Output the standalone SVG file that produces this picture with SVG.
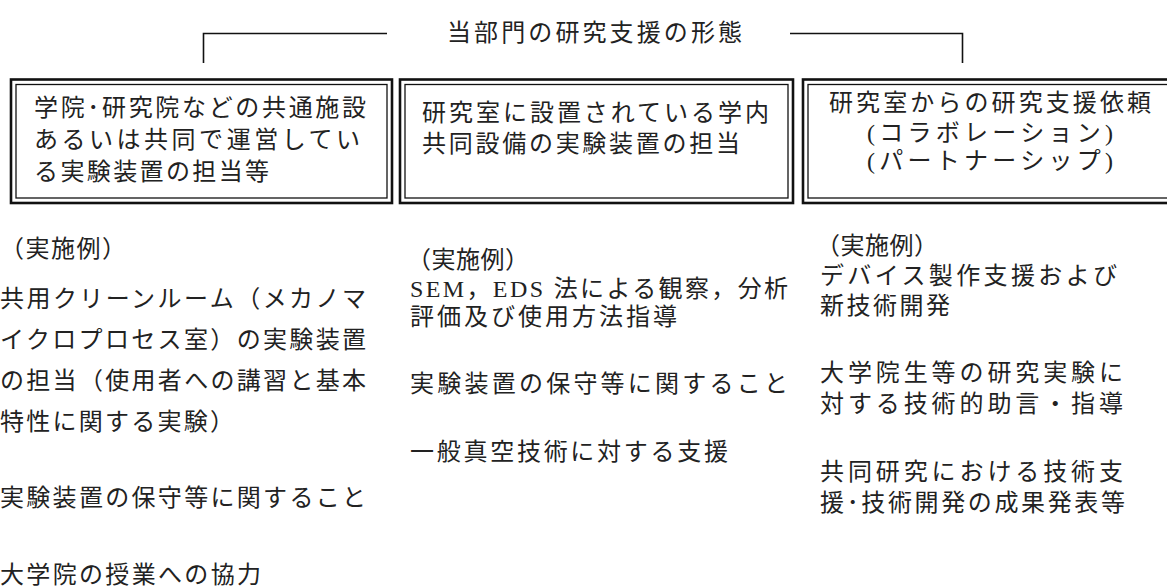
<svg xmlns="http://www.w3.org/2000/svg" width="1167" height="588" viewBox="0 0 1167 588">
<style>
text{font-family:"Liberation Serif","Noto Sans CJK JP",serif;font-size:24px;fill:#222}
.outer{fill:none;stroke:#111;stroke-width:2.6}
.inner{fill:none;stroke:#111;stroke-width:1.3}
.line{fill:none;stroke:#111;stroke-width:1.6}
.mid{text-anchor:middle}
</style>
<rect width="1167" height="588" fill="#fff"/>
<g id="connectors">
<path class="line" d="M203.5,63 V33.5 H387"/>
<path class="line" d="M790,33.5 H962.5 V63"/>
</g>
<g id="title">
<text x="447" y="41" textLength="295" lengthAdjust="spacing">当部門の研究支援の形態</text>
</g>
<g id="box1">
<rect class="outer" x="11" y="79.5" width="381" height="123.5"/>
<rect class="inner" x="16" y="84.5" width="371" height="113.5"/>
<text x="34" y="116" textLength="332" lengthAdjust="spacing">学院･研究院などの共通施設</text>
<text x="34" y="148" textLength="326" lengthAdjust="spacing">あるいは共同で運営してい</text>
<text x="34" y="180" textLength="235" lengthAdjust="spacing">る実験装置の担当等</text>
</g>
<g id="box2">
<rect class="outer" x="400" y="79.5" width="393" height="123.5"/>
<rect class="inner" x="405" y="84.5" width="383" height="113.5"/>
<text x="422" y="121" textLength="347" lengthAdjust="spacing">研究室に設置されている学内</text>
<text x="422" y="152" textLength="318" lengthAdjust="spacing">共同設備の実験装置の担当</text>
</g>
<g id="box3">
<rect class="outer" x="803" y="79.5" width="390" height="123.5"/>
<rect class="inner" x="808" y="84.5" width="380" height="113.5"/>
<text class="mid" x="990" y="111" textLength="322" lengthAdjust="spacing">研究室からの研究支援依頼</text>
<text class="mid" x="990" y="141" textLength="246" lengthAdjust="spacing">(コラボレーション)</text>
<text class="mid" x="990" y="169" textLength="246" lengthAdjust="spacing">(パートナーシップ)</text>
</g>
<g id="col1">
<text x="0" y="257" textLength="126" lengthAdjust="spacing">（実施例）</text>
<text x="0" y="307" textLength="366" lengthAdjust="spacing">共用クリーンルーム（メカノマ</text>
<text x="0" y="348" textLength="366" lengthAdjust="spacing">イクロプロセス室）の実験装置</text>
<text x="0" y="389" textLength="366" lengthAdjust="spacing">の担当（使用者への講習と基本</text>
<text x="0" y="430" textLength="234" lengthAdjust="spacing">特性に関する実験）</text>
<text x="0" y="506" textLength="366" lengthAdjust="spacing">実験装置の保守等に関すること</text>
<text x="0" y="583" textLength="261" lengthAdjust="spacing">大学院の授業への協力</text>
</g>
<g id="col2">
<text x="407" y="268" textLength="122" lengthAdjust="spacing">（実施例）</text>
<text x="410" y="297" textLength="378" lengthAdjust="spacing">SEM，EDS 法による観察，分析</text>
<text x="410" y="325" textLength="267" lengthAdjust="spacing">評価及び使用方法指導</text>
<text x="410" y="392" textLength="378" lengthAdjust="spacing">実験装置の保守等に関すること</text>
<text x="410" y="460" textLength="318" lengthAdjust="spacing">一般真空技術に対する支援</text>
</g>
<g id="col3">
<text x="816" y="254" textLength="122" lengthAdjust="spacing">（実施例）</text>
<text x="820" y="284" textLength="297" lengthAdjust="spacing">デバイス製作支援および</text>
<text x="820" y="314" textLength="130" lengthAdjust="spacing">新技術開発</text>
<text x="820" y="381" textLength="303" lengthAdjust="spacing">大学院生等の研究実験に</text>
<text x="820" y="412" textLength="303" lengthAdjust="spacing">対する技術的助言・指導</text>
<text x="820" y="480" textLength="303" lengthAdjust="spacing">共同研究における技術支</text>
<text x="820" y="511" textLength="305" lengthAdjust="spacing">援･技術開発の成果発表等</text>
</g>
</svg>
